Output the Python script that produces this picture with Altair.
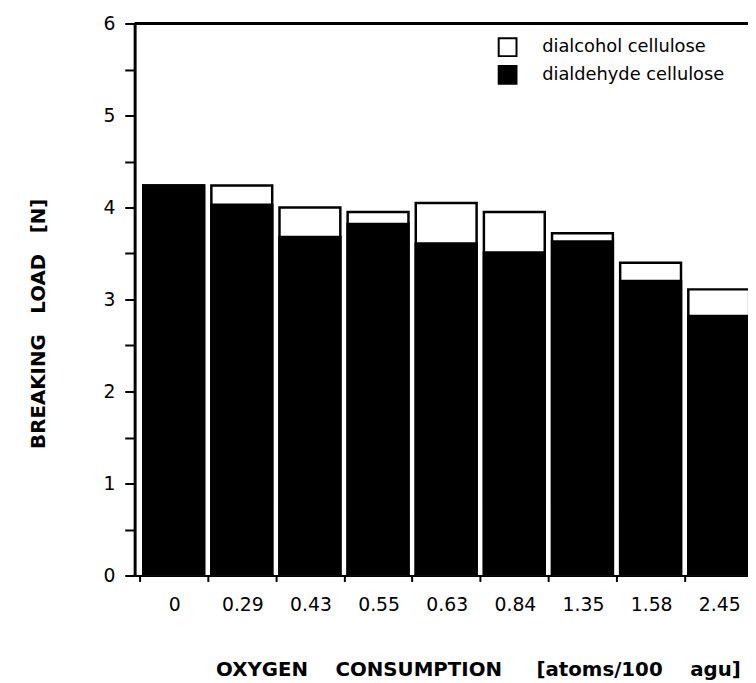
import altair as alt
import pandas as pd

# ---- data ----
categories = ["0", "0.29", "0.43", "0.55", "0.63", "0.84", "1.35", "1.58", "2.45"]
dialcohol = [4.24, 4.24, 4.00, 3.95, 4.05, 3.95, 3.72, 3.40, 3.11]
dialdehyde = [4.24, 4.03, 3.68, 3.82, 3.61, 3.51, 3.63, 3.20, 2.82]
series_names = ["dialcohol cellulose", "dialdehyde cellulose"]
series_fill = ["white", "black"]
y_ticks = [0, 0.5, 1, 1.5, 2, 2.5, 3, 3.5, 4, 4.5, 5, 5.5, 6]
x_ticks = list(range(len(categories)))
frame_top = [6]

rows = []
for name, vals in zip(series_names, [dialcohol, dialdehyde]):
    for i, (c, v) in enumerate(zip(categories, vals)):
        rows.append({"oxygen": c, "idx": i, "series": name, "load": v})
df = pd.DataFrame(rows)

PLOT_W = 620
PLOT_H = 558
STEP = 70
FONT = "DejaVu Sans"
NB = "\u00a0"

x_label_expr = "[" + ",".join("'" + c + "'" for c in categories) + "][datum.value]"
x_title = "OXYGEN" + NB * 4 + "CONSUMPTION" + NB * 5 + "[atoms/100" + NB * 4 + "agu]"
y_title = "BREAKING" + NB * 3 + "LOAD" + NB * 3 + "[N]"

x_scale = alt.Scale(domain=[0, PLOT_W / STEP], nice=False, zero=False)
y_scale = alt.Scale(domain=[0, 6], nice=False)

x_axis = alt.Axis(
    values=x_ticks, labelExpr=x_label_expr,
    title=x_title,
    titleFont=FONT, titleFontSize=20, titleFontWeight="bold", titleColor="black",
    titleX=347, titleY=101, titleAlign="center", titleBaseline="alphabetic",
    labelAngle=0, labelFont=FONT, labelFontSize=19, labelColor="black",
    labelPadding=14, labelBaseline="top", labelAlign="center", labelOffset=35,
    labelFlush=False, labelOverlap=False, labelBound=False,
    tickSize=6, tickWidth=2, tickColor="black",
    domainColor="black", domainWidth=2, grid=False,
)
y_axis = alt.Axis(
    values=y_ticks,
    labelExpr="datum.value % 1 == 0 ? format(datum.value, 'd') : ''",
    title=y_title,
    titleFont=FONT, titleFontSize=20, titleFontWeight="bold", titleColor="black",
    titleX=-91, titleY=303, titleAngle=270, titleAlign="center", titleBaseline="alphabetic",
    labelFont=FONT, labelFontSize=19, labelColor="black", labelPadding=10,
    labelFlush=False, labelOverlap=False,
    tickSize=10, tickWidth=2, tickColor="black",
    domainColor="black", domainWidth=3, grid=False,
)

bars = alt.Chart(df).transform_calculate(
    center="datum.idx + 0.5"
).mark_bar(stroke="black", strokeWidth=2.5, clip=True, opacity=1, width=61.5).encode(
    x=alt.X("center:Q", scale=x_scale, axis=x_axis),
    y=alt.Y("load:Q", stack=None, scale=y_scale, axis=y_axis),
    fill=alt.Fill(
        "series:N",
        scale=alt.Scale(domain=series_names, range=series_fill),
        legend=alt.Legend(
            orient="none", legendX=367, legendY=14, title=None,
            symbolType="square", symbolSize=324, symbolStrokeColor="black",
            symbolStrokeWidth=2, symbolOpacity=1,
            labelFont=FONT, labelFontSize=18, labelColor="black", labelLimit=300,
            labelOffset=25, rowPadding=2, padding=0,
        ),
    ),
    order=alt.Order("series:N"),
)

top = alt.Chart(pd.DataFrame({"y": frame_top})).mark_rule(color="black", strokeWidth=3).encode(
    y=alt.Y("y:Q", scale=y_scale, axis=y_axis),
    x=alt.value(0),
    x2=alt.value(PLOT_W),
)

chart = alt.layer(bars, top).properties(
    width=PLOT_W,
    height=PLOT_H,
    autosize=alt.AutoSizeParams(type="none"),
    padding={"left": 128, "top": 12, "right": 0, "bottom": 105},
).configure_view(stroke=None)

chart.save("out.html", embed_options={"renderer": "svg", "actions": False})
